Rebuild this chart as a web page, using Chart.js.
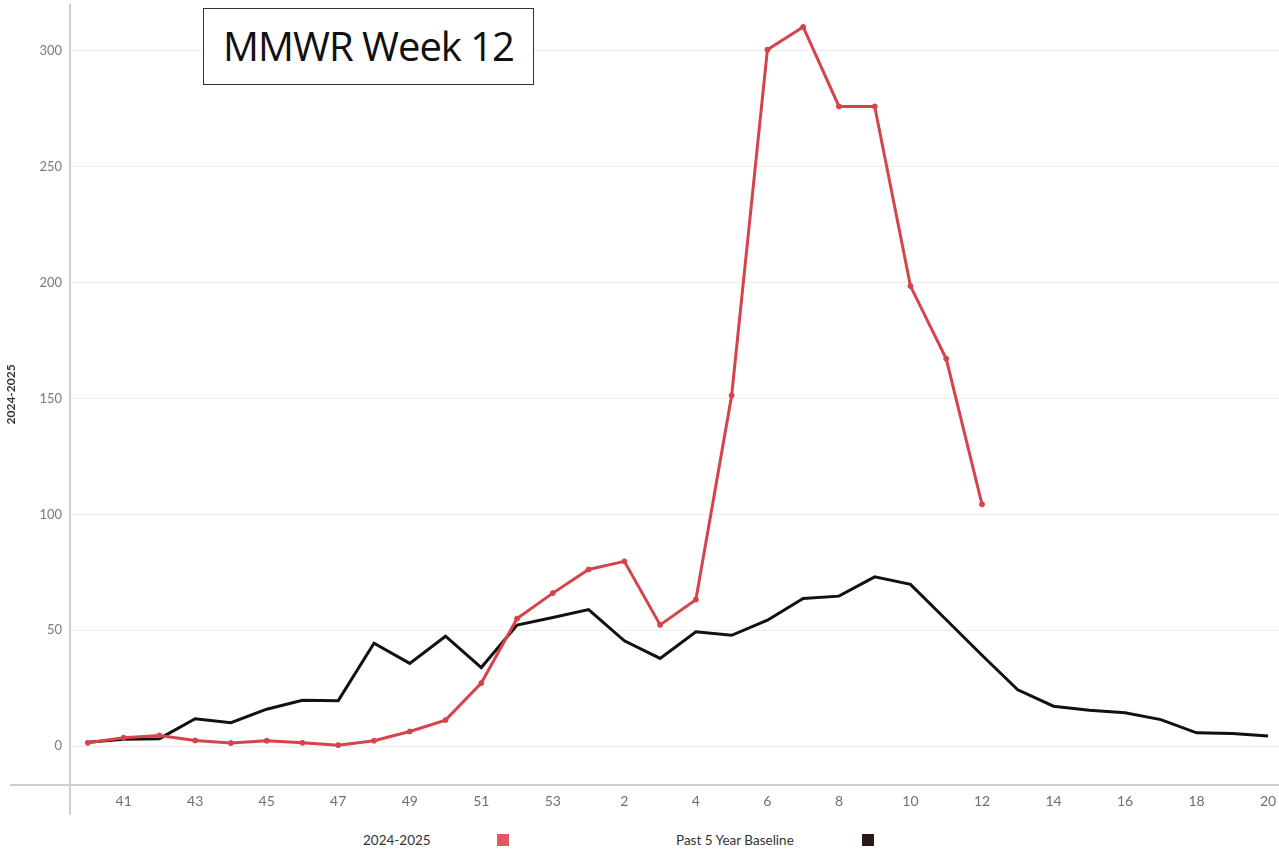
<!DOCTYPE html>
<html>
<head>
<meta charset="utf-8">
<script src="https://cdn.jsdelivr.net/npm/chart.js@4.4.1/dist/chart.umd.min.js"></script>
<style>
  html, body { margin: 0; padding: 0; background: #fff; overflow: hidden; width: 1279px; height: 854px; }
  #wrap { position: absolute; left: 0; top: -12px; width: 1292px; height: 842px; }
  #titleBox { position: absolute; left: 203px; top: 8px; width: 331px; height: 77px; border: 1px solid #333; background: #fff;
    font-family: "Open Sans", "Noto Sans", sans-serif; font-size: 40px; letter-spacing: -1px; color: #111; display: flex; align-items: center; justify-content: center; box-sizing: border-box; padding-bottom: 2px; }
  .leg { position: absolute; top: 832px; font-family: Lato, "Open Sans", sans-serif; font-size: 13.5px; color: #333; white-space: nowrap; }
  .sw { position: absolute; top: 834px; width: 12px; height: 12px; }
</style>
</head>
<body>
<div id="wrap"><canvas id="c" width="1292" height="842"></canvas></div>
<div id="titleBox">MMWR Week 12</div>
<div id="legend"></div>
<script>
const weeks = ['40','41','42','43','44','45','46','47','48','49','50','51','52','53',
  '1','2','3','4','5','6','7','8','9','10','11','12','13','14','15','16','17','18','19','20'];
const season2425 = [1.4, 3.6, 4.6, 2.4, 1.3, 2.3, 1.4, 0.4, 2.3, 6.3, 11.2, 27.2, 55, 66, 76.2, 79.7,
  52.3, 63.2, 151.3, 300.5, 310.3, 276, 276, 198.5, 167.1, 104.3];
const baseline = [1.6, 2.9, 3.2, 11.8, 10.1, 15.9, 19.8, 19.6, 44.4, 35.7, 47.4, 33.9, 52.2, 55.5, 58.9, 45.4,
  37.8, 49.3, 47.8, 54.3, 63.7, 64.7, 73, 69.8, 54.5, 39.2, 24.3, 17.2, 15.5, 14.4, 11.4, 5.7, 5.4, 4.3];
const seriesNames = ['2024-2025', 'Past 5 Year Baseline'];
const seriesColors = ['#d6434a', '#111111'];
const yTicks = [0, 50, 100, 150, 200, 250, 300];
const yAxisTitle = '2024-2025';

// HTML legend (text then swatch), built from the series arrays
const legendPos = [{text: 363, box: 497}, {text: 676, box: 862}];
const legendEl = document.getElementById('legend');
seriesNames.forEach((n, i) => {
  const t = document.createElement('div'); t.className = 'leg'; t.textContent = n; t.style.left = legendPos[i].text + 'px';
  const s = document.createElement('div'); s.className = 'sw'; s.style.left = legendPos[i].box + 'px';
  s.style.background = i === 0 ? '#e0575c' : '#2a1a16';
  legendEl.appendChild(t); legendEl.appendChild(s);
});

const axisLines = {
  id: 'axisLines',
  afterDraw(chart) {
    const {ctx, chartArea} = chart;
    ctx.save();
    ctx.strokeStyle = '#cfcfcf';
    ctx.lineWidth = 2;
    ctx.beginPath();
    ctx.moveTo(chartArea.left, chartArea.top);
    ctx.lineTo(chartArea.left, chartArea.bottom + 30);
    ctx.moveTo(10, chartArea.bottom);
    ctx.lineTo(chartArea.right, chartArea.bottom);
    ctx.stroke();
    ctx.restore();
  }
};

new Chart(document.getElementById('c'), {
  type: 'line',
  data: {
    labels: weeks,
    datasets: [
      { label: seriesNames[1], data: baseline, borderColor: seriesColors[1], borderWidth: 3, pointRadius: 0,
        tension: 0, order: 2 },
      { label: seriesNames[0], data: season2425, borderColor: seriesColors[0], backgroundColor: seriesColors[0],
        borderWidth: 3, pointRadius: 2.5, pointBorderWidth: 1, tension: 0, order: 1 }
    ]
  },
  options: {
    responsive: false,
    animation: false,
    layout: { padding: { top: 3, right: 6, left: 0, bottom: 0 } },
    plugins: { legend: { display: false }, tooltip: { enabled: false } },
    scales: {
      x: {
        offset: true,
        grid: { display: false, drawTicks: false },
        border: { display: false },
        ticks: {
          autoSkip: false, maxRotation: 0, minRotation: 0, padding: 8,
          color: '#6f6f6f', font: { family: 'Lato, "Open Sans", sans-serif', size: 14 },
          callback: (v, i) => (i % 2 === 1 ? weeks[i] : '')
        },
        afterFit: s => { s.height = 45; }
      },
      y: {
        min: -16.8, max: 320.3,
        afterBuildTicks: s => { s.ticks = yTicks.map(v => ({ value: v })); },
        grid: { color: '#ececec', lineWidth: 1, drawTicks: false },
        border: { display: false },
        ticks: { padding: 8, color: '#7a7a7a', font: { family: 'Lato, "Open Sans", sans-serif', size: 13 } },
        title: { display: true, text: yAxisTitle, color: '#333', font: { family: 'Lato, sans-serif', size: 12, weight: 'bold' }, padding: { top: 4, bottom: 0 } },
        afterFit: s => { s.width = 70; }
      }
    }
  },
  plugins: [axisLines]
});
</script>
</body>
</html>
